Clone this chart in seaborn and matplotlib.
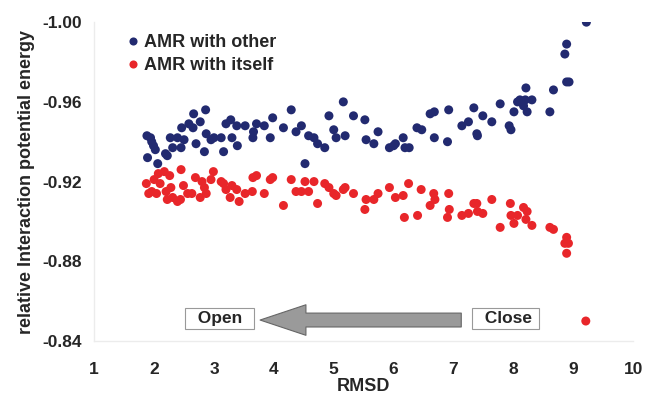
"""
Interaction energy of AMR against RMSD, with the open/close arrow.
"""
import matplotlib
matplotlib.use("Agg")
import matplotlib.pyplot as plt
import seaborn as sns
import pandas as pd

# AMR with other (blue)
other_rmsd = [1.88, 1.94, 1.96, 1.99, 1.89, 2.02, 2.06, 2.19, 2.22, 2.27, 2.31, 2.39,
              2.45, 2.46, 2.50, 2.58, 2.66, 2.65, 2.70, 2.77, 2.86, 2.84, 2.87, 2.95,
              3.00, 3.12, 3.16, 3.20, 3.28, 3.30, 3.39, 3.38, 3.52, 3.65, 3.66, 3.71,
              3.84, 3.94, 3.98, 4.16, 4.29, 4.37, 4.46, 4.52, 4.58, 4.67, 4.73, 4.85,
              4.92, 5.00, 5.04, 5.16, 5.19, 5.33, 5.52, 5.54,
              5.67, 5.74, 5.93, 6.00, 6.03, 6.16, 6.19, 6.26, 6.39, 6.47, 6.61, 6.68,
              6.68, 6.90, 6.92, 7.14, 7.25, 7.34, 7.39, 7.40, 7.49, 7.64, 7.78, 7.93,
              7.96, 8.01, 8.07, 8.11, 8.17, 8.21, 8.20, 8.23, 8.31, 8.61, 8.67, 8.86,
              8.89, 8.89, 8.93, 9.22]
other_energy = [-0.943, -0.942, -0.940, -0.938, -0.932, -0.936, -0.929, -0.934, -0.933,
                -0.942, -0.937, -0.942, -0.937, -0.947, -0.941, -0.949, -0.954, -0.947,
                -0.939, -0.950, -0.956, -0.935, -0.944, -0.941, -0.942, -0.942, -0.935,
                -0.949, -0.951, -0.942, -0.938, -0.948, -0.948, -0.942, -0.945, -0.949,
                -0.948, -0.942, -0.952, -0.947, -0.956, -0.945, -0.948, -0.929, -0.943,
                -0.942, -0.939, -0.937, -0.953, -0.946, -0.942, -0.960, -0.943, -0.953,
                -0.951, -0.941,
                -0.939, -0.945, -0.937, -0.938, -0.939, -0.942, -0.937, -0.937, -0.947,
                -0.946, -0.954, -0.955, -0.942, -0.940, -0.956, -0.948, -0.950, -0.957,
                -0.944, -0.943, -0.953, -0.950, -0.959, -0.948, -0.946, -0.955, -0.960,
                -0.961, -0.958, -0.967, -0.961, -0.955, -0.961, -0.955, -0.966, -0.984,
                -0.989, -0.970, -0.970, -1.000]

# AMR with itself (red)
itself_rmsd = [1.87, 1.91, 1.96, 2.00, 2.04, 2.07, 2.10, 2.17, 2.20, 2.26, 2.22, 2.28,
               2.31, 2.39, 2.45, 2.44, 2.49, 2.56, 2.63, 2.69, 2.77, 2.80, 2.84, 2.87,
               2.95, 2.99, 3.12, 3.16, 3.20, 3.27, 3.30, 3.38, 3.42, 3.52, 3.64, 3.65,
               3.71, 3.84, 3.94, 3.98, 4.16, 4.29, 4.37, 4.46, 4.52, 4.58, 4.67, 4.73,
               4.85, 4.92, 5.00, 5.04, 5.16, 5.19, 5.33, 5.52, 5.54,
               5.67, 5.74, 5.93, 6.03, 6.16, 6.18, 6.25, 6.40, 6.46, 6.61, 6.67, 6.69,
               6.90, 6.92, 6.93, 7.14, 7.25, 7.34, 7.39, 7.40, 7.49, 7.64, 7.78, 7.95,
               7.96, 8.01, 8.07, 8.17, 8.21, 8.23, 8.31, 8.61, 8.67, 8.86, 8.89, 8.92,
               8.89, 9.21]
itself_energy = [-0.919, -0.914, -0.915, -0.921, -0.914, -0.924, -0.919, -0.925, -0.915,
                 -0.923, -0.911, -0.917, -0.912, -0.910, -0.926, -0.911, -0.918, -0.914,
                 -0.914, -0.922, -0.912, -0.920, -0.917, -0.914, -0.921, -0.925, -0.920,
                 -0.919, -0.916, -0.912, -0.918, -0.916, -0.910, -0.914, -0.915, -0.922,
                 -0.923, -0.914, -0.921, -0.922, -0.908, -0.921, -0.915, -0.915, -0.920,
                 -0.915, -0.920, -0.909, -0.919, -0.917, -0.914, -0.913, -0.916, -0.917,
                 -0.914, -0.906, -0.911,
                 -0.911, -0.914, -0.917, -0.912, -0.913, -0.902, -0.919, -0.903, -0.916,
                 -0.908, -0.914, -0.911, -0.902, -0.914, -0.906, -0.903, -0.904, -0.909,
                 -0.909, -0.905, -0.904, -0.911, -0.897, -0.909, -0.903, -0.899, -0.903,
                 -0.907, -0.901, -0.905, -0.898, -0.897, -0.896, -0.889, -0.892, -0.889,
                 -0.884, -0.850]

series_names = ["AMR with other", "AMR with itself"]
series_colors = ["#222a70", "#e8262a"]
x_ticks = [1, 2, 3, 4, 5, 6, 7, 8, 9, 10]
y_ticks = [-0.84, -0.88, -0.92, -0.96, -1.00]


def build_frame():
    rows = []
    for x, y in zip(other_rmsd, other_energy):
        rows.append({"RMSD": x, "energy": y, "series": series_names[0]})
    for x, y in zip(itself_rmsd, itself_energy):
        rows.append({"RMSD": x, "energy": y, "series": series_names[1]})
    return pd.DataFrame(rows)


def main():
    sns.set_style("white")
    plt.rcParams["font.family"] = ["Liberation Sans", "DejaVu Sans"]
    plt.rcParams["font.weight"] = "bold"

    df = build_frame()
    fig = plt.figure(figsize=(6.5, 3.96), dpi=100)
    ax = fig.add_axes([0.145, 0.139, 0.829, 0.805])

    sns.scatterplot(data=df, x="RMSD", y="energy", hue="series",
                    palette=dict(zip(series_names, series_colors)),
                    s=42, linewidth=0, ax=ax)

    ax.set_xlim(1, 10)
    ax.set_ylim(-0.84, -1.00)
    ax.set_xticks(x_ticks)
    ax.set_yticks(y_ticks)
    ax.set_yticklabels([f"{v:.2f}" for v in y_ticks])
    ax.tick_params(axis="x", labelsize=12.5, length=5, color="#e6e6e6",
                   direction="out", pad=10)
    ax.tick_params(axis="y", labelsize=12.5, length=5, color="#e6e6e6",
                   direction="in", pad=9)
    for lab in ax.get_xticklabels() + ax.get_yticklabels():
        lab.set_fontweight("bold")

    for side in ["top", "right"]:
        ax.spines[side].set_visible(False)
    for side in ["left", "bottom"]:
        ax.spines[side].set_color("#ececec")
        ax.spines[side].set_linewidth(1.0)

    ax.set_xlabel("RMSD", fontsize=13, fontweight="bold", labelpad=1)
    ax.set_ylabel("relative Interaction potential energy", fontsize=13,
                  fontweight="bold", labelpad=5)

    leg = ax.legend(loc="upper left", bbox_to_anchor=(0.046, 0.984), frameon=False,
                    fontsize=13, handlelength=0.8, handletextpad=0.2,
                    borderaxespad=0, labelspacing=0.3, markerscale=0.9)
    for t in leg.get_texts():
        t.set_fontweight("bold")

    # open / close arrow
    ax.annotate("", xy=(3.77, -0.8505), xytext=(7.13, -0.8505),
                arrowprops=dict(arrowstyle="simple,head_length=3.3,head_width=2.2,tail_width=1.0",
                                fc="#9a9a9a", ec="#666666", lw=0.8,
                                mutation_scale=10, shrinkA=0, shrinkB=0))
    box = dict(boxstyle="square,pad=0.16", fc="white", ec="#999999", lw=0.8)
    ax.text(3.095, -0.8513, "  Open  ", ha="center", va="center", fontsize=12.5,
            fontweight="bold", bbox=box)
    ax.text(7.87, -0.8513, "  Close ", ha="center", va="center", fontsize=12.5,
            fontweight="bold", bbox=box)

    fig.savefig("out.png", dpi=100)


if __name__ == "__main__":
    main()
